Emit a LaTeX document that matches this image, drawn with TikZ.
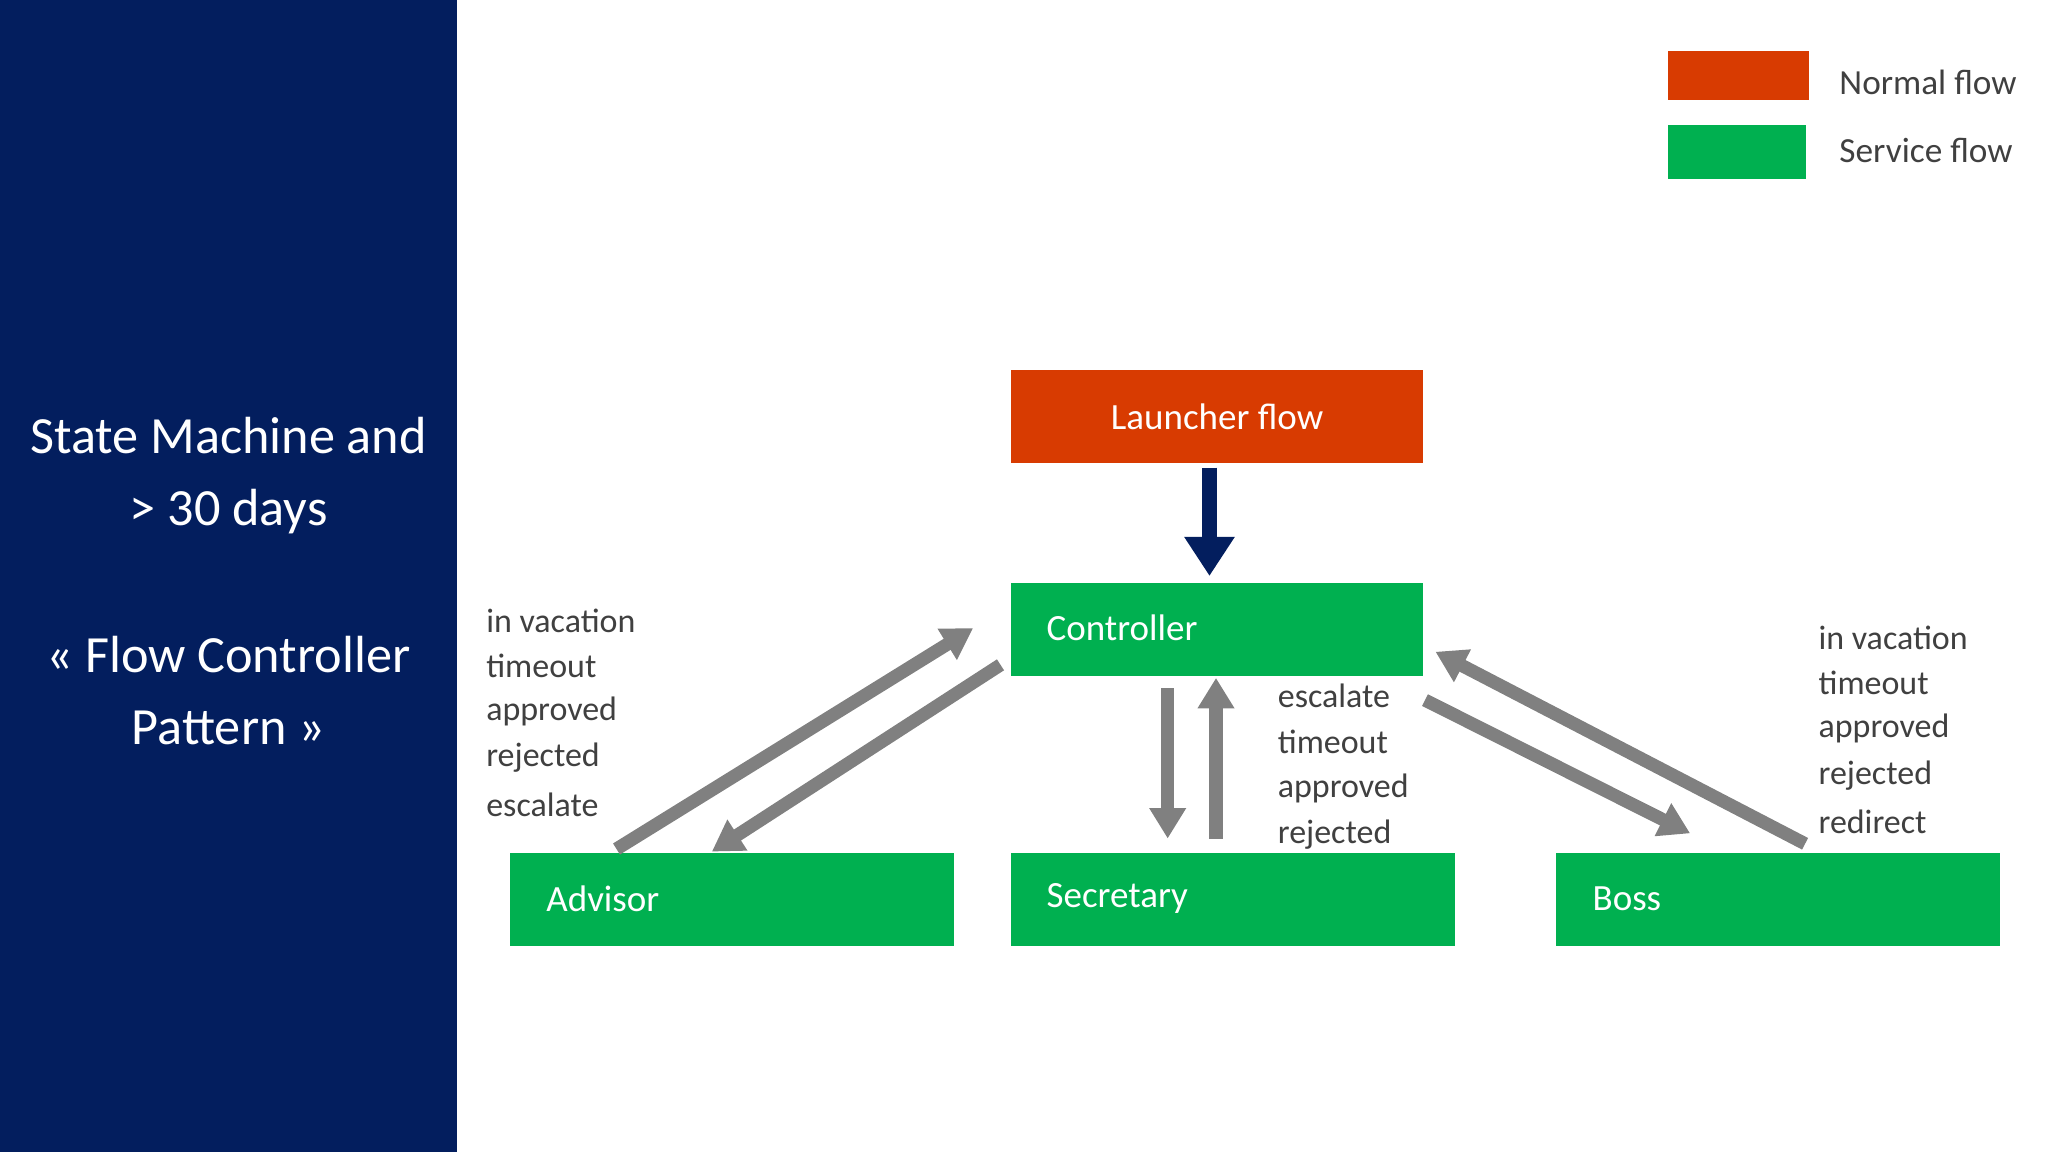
\documentclass[tikz,border=0pt]{standalone}
\usepackage{fontspec}
\setmainfont{Carlito}
\usetikzlibrary{arrows.meta}
\definecolor{navy}{HTML}{031E5E}
\definecolor{dkred}{HTML}{D83B01}
\definecolor{grn}{HTML}{00B050}
\definecolor{gry}{HTML}{808080}
\begin{document}
\begin{tikzpicture}[x=0.6pt,y=-0.6pt,
  box/.style={draw=none,inner sep=0pt,minimum width=#1*0.6pt,minimum height=42.6pt,anchor=north west},
  lbl/.style={font=\fontsize{15.6}{21}\selectfont,text=black!75,anchor=west,inner sep=0pt},
  btxt/.style={font=\fontsize{17}{20}\selectfont,text=white,anchor=west,inner sep=0pt},
  garr/.style={draw=gry,line width=6pt,-{Triangle[width=16pt,length=14pt]}}]
\useasboundingbox (0,0) rectangle (1568,882);
\fill[navy] (0,0) rectangle (350,882);
\node[font=\fontsize{24}{33}\selectfont,text=white,align=center] (t1) at (175,364) {State Machine and\\> 30 days};
\node[font=\fontsize{24}{33}\selectfont,text=white,align=center] (t2) at (175,529) {« Flow Controller\\Pattern »};
% legend
\node[box=108,minimum height=22.2pt,fill=dkred] (lr) at (1277,39) {};
\node[box=105,minimum height=25.2pt,fill=grn] (lg) at (1277,95) {};
\node[lbl,font=\fontsize{16.2}{20}\selectfont] (ln) at (1408,63) {Normal flow};
\node[lbl,font=\fontsize{16.2}{20}\selectfont] (ls) at (1408,115) {Service flow};
% boxes
\node[box=315,fill=dkred] (launch) at (774,283) {};
\node[btxt,anchor=center] at (launch.center) {Launcher flow};
\node[box=315,fill=grn] (ctrl) at (774,446) {};
\node[btxt] at (801,481) {Controller};
\node[box=340,fill=grn] (adv) at (390,653) {};
\node[btxt] at (418,688) {Advisor};
\node[box=340,fill=grn] (sec) at (774,653) {};
\node[btxt] at (801,688) {Secretary};
\node[box=340,fill=grn] (boss) at (1191,653) {};
\node[btxt] at (1219,688) {Boss};
% arrow launcher->controller
\coordinate (l1) at (926,358); \coordinate (c1) at (926,441);
\draw[draw=navy,line width=7pt,-{Triangle[width=22pt,length=18pt]}] (l1) -- (c1);
% advisor
\coordinate (a1) at (472,650); \coordinate (a2) at (745,481);
\coordinate (a3) at (766,509); \coordinate (a4) at (545,652);
\draw[garr] (a1) -- (a2);
\draw[garr] (a3) -- (a4);
% secretary
\coordinate (s1) at (894,527); \coordinate (s2) at (894,642);
\coordinate (s3) at (931,642); \coordinate (s4) at (931,519);
\draw[garr] (s1) -- (s2);
\draw[garr] (s3) -- (s4);
% boss
\coordinate (b1) at (1091,536); \coordinate (b2) at (1294,638);
\coordinate (b3) at (1382,646); \coordinate (b4) at (1099,499);
\draw[garr] (b1) -- (b2);
\draw[garr] (b3) -- (b4);
% labels
\node[lbl] at (372,475) {in vacation};
\node[lbl] at (372,510) {timeout};
\node[lbl] at (372,545) {approved};
\node[lbl] at (372,580) {rejected};
\node[lbl] at (372,616) {escalate};
\node[lbl] at (978,533) {escalate};
\node[lbl] at (978,568) {timeout};
\node[lbl] at (978,604) {approved};
\node[lbl] at (978,639) {rejected};
\node[lbl] at (1392,488) {in vacation};
\node[lbl] at (1392,523) {timeout};
\node[lbl] at (1392,558) {approved};
\node[lbl] at (1392,594) {rejected};
\node[lbl] at (1392,629) {redirect};
\end{tikzpicture}
\end{document}
